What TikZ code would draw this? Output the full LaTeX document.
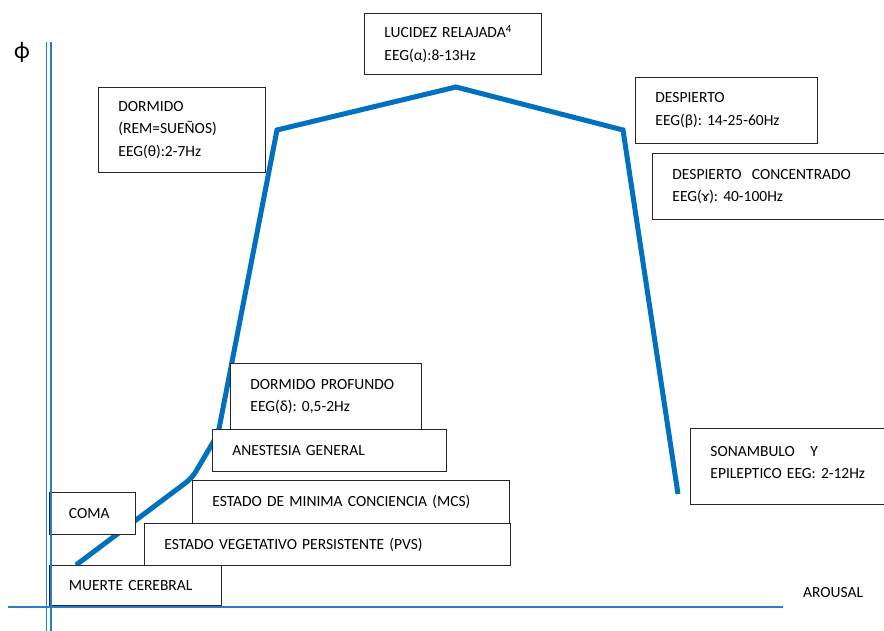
\documentclass[tikz,border=0pt]{standalone}
\usepackage{fontspec}
\setmainfont{Carlito}
\frenchspacing
\definecolor{curveblue}{HTML}{0070C0}
\definecolor{axisblue}{HTML}{2A7CC6}
\begin{document}
\begin{tikzpicture}[x=1pt,y=-1pt,
  statebox/.style={draw=black!85, line width=0.9pt, fill=white, anchor=north west,
    align=left, inner xsep=20pt, inner ysep=0pt,
    font=\fontsize{15.5}{22.5}\selectfont},
  curve/.style={draw=curveblue, line width=5pt, line join=miter},
  axisline/.style={draw=axisblue, line width=1.6pt}]
\useasboundingbox (0,0) rectangle (884,631);

% arousal curve through its corner points
\coordinate (c0) at (76,565);
\coordinate (c1) at (192,478);
\coordinate (c2) at (218,434);
\coordinate (c3) at (277,130);
\coordinate (c4) at (456,87);
\coordinate (c5) at (623,130);
\coordinate (c6) at (678,494);
\draw[curve] (c0) [rounded corners=7pt] -- (c1) -- (c2) [sharp corners] -- (c3) -- (c4) -- (c5) -- (c6);

% state boxes
\node[statebox, text width=127pt, minimum height=85pt] (dormido) at (98,87)
  {DORMIDO\\(REM=SUEÑOS)\\EEG(θ):2-7Hz};
\node[statebox, text width=137pt, minimum height=61pt] (lucidez) at (364,13)
  {LUCIDEZ RELAJADA\textsuperscript{4}\\EEG(α):8-13Hz};
\node[statebox, text width=142pt, minimum height=66pt] (despierto) at (635,77)
  {DESPIERTO\\EEG(β): 14-25-60Hz};
\node[statebox, text width=210pt, minimum height=66pt] (concentrado) at (652,153)
  {DESPIERTO\ \ CONCENTRADO\\EEG(ɤ): 40-100Hz};
\node[statebox, text width=170pt, minimum height=76pt] (sonambulo) at (690,428)
  {SONAMBULO\ \ \ Y\\EPILEPTICO EEG: 2-12Hz\\[-14.5pt]\mbox{}};
\node[statebox, text width=151pt, minimum height=66pt] (profundo) at (230,363)
  {DORMIDO PROFUNDO\\EEG(δ): 0,5-2Hz};
\node[statebox, text width=194pt, minimum height=42pt] (anestesia) at (212,429)
  {ANESTESIA GENERAL};
\node[statebox, text width=277pt, minimum height=43pt] (mcs) at (192,480)
  {ESTADO DE MINIMA CONCIENCIA (MCS)};
\node[statebox, text width=326pt, minimum height=42pt] (pvs) at (144,523)
  {ESTADO VEGETATIVO PERSISTENTE (PVS)};
\node[statebox, text width=46.5pt, minimum height=42pt] (coma) at (48.5,492)
  {COMA};
\node[statebox, text width=132.5pt, minimum height=40pt] (muerte) at (48.5,565)
  {MUERTE CEREBRAL};

% axes: double vertical axis and horizontal axis
\coordinate (ya1) at (46.6,42);
\coordinate (ya2) at (46.6,631);
\coordinate (yb1) at (51.2,42);
\coordinate (yb2) at (51.2,631);
\coordinate (xl) at (8,607);
\coordinate (xr) at (783,607);
\draw[axisline] (ya1) -- (ya2);
\draw[axisline] (yb1) -- (yb2);
\draw[axisline] (xl) -- (xr);

% axis labels
\node[font=\fontsize{24}{24}\selectfont, inner sep=0pt] (phi) at (22,52) {ϕ};
\node[anchor=west, inner sep=0pt, font=\fontsize{15.5}{18}\selectfont] (arousal) at (803,593) {AROUSAL};
\end{tikzpicture}
\end{document}
